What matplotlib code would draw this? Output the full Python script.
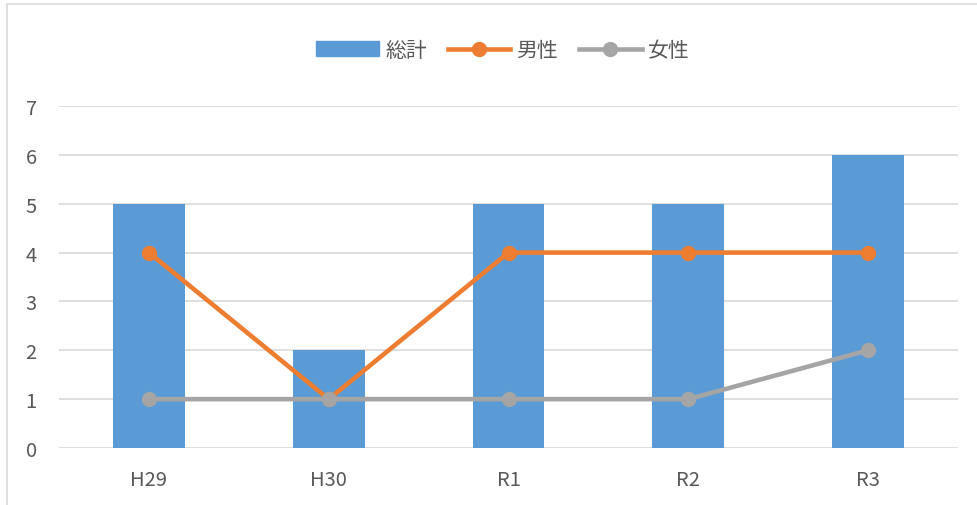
import numpy as np
import matplotlib.pyplot as plt
from matplotlib.lines import Line2D
from matplotlib.patches import Rectangle

plt.rcParams['font.family'] = ['Noto Sans CJK JP', 'DejaVu Sans']

# 年度ごとの件数
years = ["H29", "H30", "R1", "R2", "R3"]
total = [5, 2, 5, 5, 6]
male = [4, 1, 4, 4, 4]
female = [1, 1, 1, 1, 2]

blue = "#5B9BD5"
orange = "#ED7D31"
gray = "#A5A5A5"
txt = "#595959"
grid = "#D9D9D9"

fig = plt.figure(figsize=(9.77, 5.06), dpi=100)
ax = fig.add_axes([59 / 977, 1 - 449 / 506, 899 / 977, 342 / 506])

# 外枠
fig.patches.append(Rectangle((7 / 977, -0.1), 1.2, 1 - 5 / 506 + 0.1,
                             transform=fig.transFigure, fill=False,
                             edgecolor=grid, linewidth=1.2))

x = np.arange(len(years))
ax.bar(x, total, width=0.4, color=blue, zorder=2, label="総計")
ax.plot(x, male, color=orange, lw=3.3, marker="o", ms=10, zorder=3, label="男性")
ax.plot(x, female, color=gray, lw=3.3, marker="o", ms=10, zorder=3, label="女性")

ax.set_xlim(-0.5, len(years) - 0.5)
ax.set_ylim(0, 7)
ax.set_yticks(range(8))
ax.set_xticks(x)
ax.set_xticklabels(years)
ax.yaxis.grid(True, color=grid, lw=1.2, zorder=0)
for s in ax.spines.values():
    s.set_visible(False)
ax.tick_params(length=0, labelsize=14.5, colors=txt)
ax.tick_params(axis="y", pad=16)
ax.tick_params(axis="x", pad=15)

handles = [Rectangle((0, 0), 1, 1, color=blue),
           Line2D([], [], color=orange, lw=3.3, marker="o", ms=10),
           Line2D([], [], color=gray, lw=3.3, marker="o", ms=10)]
leg = fig.legend(handles, ["総計", "男性", "女性"], loc="center",
                 bbox_to_anchor=(503 / 977, 1 - 51 / 506), ncol=3, frameon=False,
                 fontsize=15, handlelength=3.0, handleheight=0.7,
                 handletextpad=0.3, columnspacing=1.0)
for t in leg.get_texts():
    t.set_color(txt)

fig.savefig("out.png", dpi=100)
